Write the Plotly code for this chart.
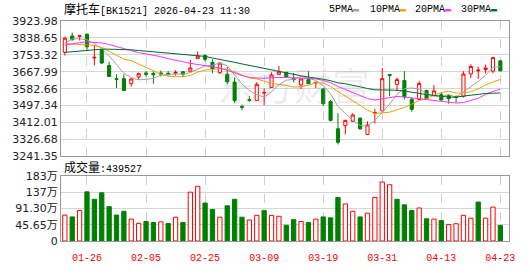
import plotly.graph_objects as go

# ---------------- data ----------------
dates = ["01-21", "01-22", "01-23", "01-26", "01-27", "01-28", "01-29", "01-30",
         "02-02", "02-03", "02-04", "02-05", "02-06", "02-09", "02-10", "02-11",
         "02-12", "02-13", "02-24", "02-25", "02-26", "02-27", "03-02", "03-03",
         "03-04", "03-05", "03-06", "03-09", "03-10", "03-11", "03-12", "03-13",
         "03-16", "03-17", "03-18", "03-19", "03-20", "03-23", "03-24", "03-25",
         "03-26", "03-27", "03-30", "03-31", "04-01", "04-02", "04-03", "04-07",
         "04-08", "04-09", "04-10", "04-13", "04-14", "04-15", "04-16", "04-17",
         "04-20", "04-21", "04-22", "04-23"]

opens = [3765.9, 3848.1, 3846.5, 3857.6, 3738.0, 3778.6, 3699.6, 3633.2, 3633.2, 3607.9,
         3641.1, 3662.0, 3660.0, 3662.0, 3660.0, 3660.0, 3668.0, 3671.1, 3734.3, 3750.2,
         3715.4, 3663.3, 3655.3, 3615.8, 3492.6, 3527.3, 3522.6, 3560.5, 3589.0, 3655.3,
         3664.8, 3634.0, 3601.6, 3628.5, 3611.1, 3581.0, 3517.9, 3380.4, 3396.2, 3418.3,
         3434.1, 3351.9, 3459.4, 3470.5, 3653.8, 3604.8, 3623.7, 3528.9, 3528.9, 3573.2,
         3547.9, 3552.6, 3547.9, 3543.2, 3544.7, 3656.9, 3672.7, 3679.0, 3671.1, 3723.3]
highs = [3844.9, 3865.5, 3851.3, 3860.8, 3802.3, 3781.8, 3718.5, 3655.3, 3655.3, 3636.4,
         3663.3, 3671.1, 3671.1, 3674.3, 3671.1, 3675.9, 3671.1, 3728.0, 3770.7, 3754.9,
         3731.2, 3715.4, 3691.7, 3639.5, 3502.1, 3544.7, 3615.8, 3584.2, 3664.8, 3696.4,
         3668.0, 3661.7, 3636.4, 3671.1, 3619.0, 3585.8, 3525.8, 3459.4, 3426.2, 3459.4,
         3438.8, 3418.3, 3481.5, 3687.0, 3655.3, 3639.5, 3671.1, 3538.4, 3620.6, 3577.9,
         3601.6, 3565.3, 3552.6, 3549.5, 3671.1, 3705.9, 3694.8, 3704.3, 3743.8, 3723.3]
lows = [3750.2, 3826.0, 3826.0, 3775.4, 3699.6, 3707.5, 3641.1, 3585.8, 3573.2, 3593.7,
        3628.5, 3644.3, 3607.9, 3644.3, 3644.3, 3649.0, 3641.1, 3664.8, 3734.3, 3720.1,
        3660.1, 3656.9, 3604.8, 3509.9, 3473.6, 3516.3, 3522.6, 3498.9, 3589.0, 3652.2,
        3636.4, 3614.3, 3581.0, 3607.9, 3585.8, 3494.2, 3418.3, 3301.4, 3351.9, 3415.1,
        3375.7, 3351.9, 3407.2, 3470.5, 3544.7, 3573.2, 3528.9, 3465.7, 3525.8, 3525.8,
        3544.7, 3522.6, 3506.8, 3513.1, 3538.4, 3636.4, 3631.6, 3660.1, 3660.1, 3672.7]
closes = [3837.1, 3829.2, 3849.7, 3794.4, 3740.6, 3712.2, 3644.3, 3630.0, 3573.2, 3631.6,
          3658.5, 3656.0, 3653.0, 3657.0, 3654.0, 3665.0, 3655.3, 3687.0, 3747.0, 3731.2,
          3683.8, 3712.2, 3617.4, 3522.6, 3489.4, 3524.2, 3604.8, 3563.7, 3652.2, 3668.0,
          3639.5, 3628.0, 3631.6, 3607.9, 3614.3, 3506.8, 3423.0, 3312.4, 3423.0, 3449.9,
          3380.4, 3399.3, 3462.6, 3633.2, 3649.0, 3628.5, 3541.6, 3478.4, 3609.5, 3528.9,
          3571.6, 3525.8, 3532.1, 3538.4, 3656.9, 3694.8, 3675.9, 3687.0, 3739.1, 3672.7]

# volume in 万
volumes = [73.0, 67.8, 86.1, 138.3, 117.4, 135.6, 96.5, 73.0, 83.5, 61.7,
           49.6, 54.8, 52.2, 53.9, 49.6, 67.0, 52.2, 137.4, 153.9, 106.9,
           88.7, 67.0, 99.1, 117.4, 67.0, 59.1, 72.2, 86.1, 72.2, 69.6,
           44.3, 60.0, 54.8, 52.2, 61.7, 67.8, 65.2, 122.6, 104.3, 83.5,
           67.8, 78.3, 122.6, 166.1, 158.3, 117.4, 101.7, 86.1, 93.0, 62.6,
           61.7, 57.4, 46.1, 48.7, 72.2, 64.3, 109.6, 64.3, 95.6, 43.95]

ma5 = [3813.4, 3833.9, 3833.9, 3829.2, 3810.2, 3785.2, 3748.2, 3704.3, 3660.1, 3638.3,
       3627.5, 3629.9, 3634.5, 3651.2, 3655.7, 3657.0, 3656.9, 3663.7, 3681.7, 3697.1,
       3700.9, 3712.2, 3698.3, 3653.4, 3605.1, 3573.2, 3551.7, 3540.9, 3566.9, 3602.6,
       3625.6, 3630.3, 3643.9, 3635.0, 3624.3, 3597.7, 3556.7, 3492.9, 3455.9, 3423.0,
       3397.7, 3393.0, 3423.0, 3465.1, 3504.9, 3554.5, 3583.0, 3586.1, 3581.4, 3557.4,
       3546.0, 3542.8, 3553.6, 3539.4, 3565.0, 3589.6, 3619.6, 3650.6, 3690.7, 3693.9]
ma10 = [3810.2, 3808.6, 3807.0, 3805.4, 3800.7, 3791.2, 3770.7, 3750.2, 3731.2, 3724.2,
        3706.4, 3689.1, 3669.4, 3655.6, 3647.0, 3642.3, 3643.4, 3649.1, 3666.4, 3676.4,
        3678.9, 3684.6, 3681.0, 3667.6, 3651.1, 3637.0, 3632.0, 3619.6, 3610.2, 3603.8,
        3599.4, 3591.0, 3592.4, 3600.9, 3613.4, 3611.7, 3593.5, 3568.4, 3545.5, 3523.6,
        3497.7, 3474.9, 3458.0, 3460.5, 3464.0, 3476.1, 3488.0, 3504.6, 3523.2, 3531.1,
        3550.3, 3562.9, 3569.9, 3560.4, 3561.2, 3567.8, 3581.2, 3602.1, 3615.1, 3629.4]
ma20 = [3802.3, 3810.2, 3814.9, 3818.1, 3816.5, 3813.4, 3805.4, 3794.4, 3783.3, 3772.3,
        3764.4, 3758.1, 3751.7, 3743.8, 3734.3, 3724.9, 3718.5, 3710.6, 3704.3, 3700.3,
        3692.7, 3686.8, 3675.2, 3661.6, 3649.0, 3639.6, 3637.7, 3634.3, 3638.3, 3640.1,
        3639.2, 3637.8, 3636.7, 3634.2, 3632.3, 3624.3, 3612.7, 3594.0, 3577.8, 3563.7,
        3548.6, 3532.9, 3525.2, 3530.7, 3538.7, 3543.9, 3540.7, 3536.5, 3534.3, 3527.4,
        3524.0, 3518.9, 3513.9, 3510.4, 3512.6, 3522.0, 3534.6, 3553.3, 3569.1, 3580.3]
ma30 = [3765.9, 3769.1, 3773.8, 3778.6, 3781.8, 3781.8, 3781.8, 3781.8, 3781.8, 3778.6,
        3775.4, 3772.3, 3769.1, 3765.9, 3762.8, 3761.2, 3757.0, 3754.0, 3750.0, 3745.4,
        3737.5, 3731.2, 3723.3, 3715.4, 3707.5, 3699.6, 3691.7, 3683.8, 3675.9, 3668.2,
        3661.6, 3654.9, 3647.6, 3641.4, 3637.2, 3630.3, 3622.9, 3612.4, 3607.3, 3601.3,
        3592.0, 3583.5, 3577.1, 3576.3, 3576.2, 3574.9, 3571.2, 3564.2, 3559.6, 3552.9,
        3549.1, 3542.9, 3540.1, 3540.6, 3546.2, 3551.9, 3554.2, 3558.4, 3561.2, 3561.4]

price_ticks = [3241.35, 3326.68, 3412.01, 3497.34, 3582.66, 3667.99, 3753.32, 3838.65, 3923.98]
vol_ticks = [0, 45.65, 91.30, 136.95, 182.60]
vol_tick_text = ["0", "45.65万", "91.30万", "137万", "183万"]
date_ticks = ["01-26", "02-05", "02-25", "03-09", "03-19", "03-31", "04-13", "04-23"]

title_name = "摩托车"
title_rest = "[BK1521] 2026-04-23 11:30"
vol_name = "成交量"
vol_now = ":439527"
ma_names = ["5PMA", "10PMA", "20PMA", "30PMA"]
ma_colors = ["#a0a0a0", "#f0a000", "#ff33ff", "#006633"]

RED = "#ff0000"
GREEN = "#008000"

# ---------------- figure ----------------
fig = go.Figure()

fig.add_trace(go.Candlestick(
    x=dates, open=opens, high=highs, low=lows, close=closes,
    increasing=dict(line=dict(color=RED, width=1), fillcolor="#ffffff"),
    decreasing=dict(line=dict(color=GREEN, width=1), fillcolor=GREEN),
    whiskerwidth=0, xaxis="x", yaxis="y", showlegend=False, hoverinfo="skip"))

for vals, name, col in zip([ma5, ma10, ma20, ma30], ma_names, ma_colors):
    fig.add_trace(go.Scatter(x=dates, y=vals, mode="lines", name=name,
                             line=dict(color=col, width=1), xaxis="x", yaxis="y",
                             showlegend=False, hoverinfo="skip"))

# volume colour: up vs previous close (first bar: vs its open)
vol_up = [closes[0] > opens[0]] + [closes[i] > closes[i - 1] for i in range(1, len(closes))]
fig.add_trace(go.Bar(
    x=dates, y=volumes, width=0.58,
    marker=dict(color=["#ffffff" if u else GREEN for u in vol_up],
                line=dict(color=[RED if u else GREEN for u in vol_up], width=1)),
    xaxis="x2", yaxis="y2", showlegend=False, hoverinfo="skip"))

W, H = 530, 276
ML, MR, MT, MB = 56, 21, 21, 21
ph = H - MT - MB
pw = W - ML - MR


def py(pix):
    return (H - MB - pix) / ph


def px(pix):
    return (pix - ML) / pw


xrange_ = [-0.52, 60.17]
common_x = dict(type="category", range=xrange_, tickvals=date_ticks,
                showgrid=True, gridcolor="#cfcfcf", griddash="dash", gridwidth=1,
                showline=True, mirror=True, linecolor="#9a9a9a", linewidth=1,
                zeroline=False, ticks="", fixedrange=True)

fig.update_layout(
    width=W, height=H,
    margin=dict(l=ML, r=MR, t=MT, b=MB),
    paper_bgcolor="#ffffff", plot_bgcolor="#ffffff",
    boxgap=0.4, bargap=0.4,
    showlegend=False,
    xaxis=dict(common_x, anchor="y", domain=[0, 1], showticklabels=False,
               rangeslider=dict(visible=False)),
    xaxis2=dict(common_x, anchor="y2", domain=[0, 1], showticklabels=True,
                tickfont=dict(family="Liberation Mono, DejaVu Sans Mono", size=10, color=RED),
                ticklabelstandoff=7),
    yaxis=dict(domain=[py(165), 1], range=[price_ticks[0], price_ticks[-1]],
               tickvals=price_ticks, ticktext=[f"{v:.2f}" for v in price_ticks],
               showgrid=True, gridcolor="#d6d6d6", gridwidth=1,
               showline=True, mirror=True, linecolor="#9a9a9a", linewidth=1,
               zeroline=False, ticks="", fixedrange=True,
               tickfont=dict(family="DejaVu Sans", size=11, color="#222222")),
    yaxis2=dict(domain=[0, py(186)], range=[0, vol_ticks[-1]],
                tickvals=vol_ticks, ticktext=vol_tick_text,
                showgrid=True, gridcolor="#d6d6d6", gridwidth=1,
                showline=True, mirror=True, linecolor="#9a9a9a", linewidth=1,
                zeroline=False, ticks="", fixedrange=True,
                tickfont=dict(family="DejaVu Sans, Noto Sans CJK SC", size=11, color="#222222")),
)

annotations = []
# title
annotations.append(dict(
    text=f"<span style='font-size:12px'>{title_name}</span>{title_rest}",
    xref="paper", yref="paper", x=px(57), y=py(9), xanchor="left", yanchor="middle",
    showarrow=False, font=dict(family="Liberation Mono, Noto Sans CJK SC", size=10, color="#000000")))
# legend of moving averages
leg_x = [325, 366, 412, 458]
for name, col, lx in zip(ma_names, ma_colors, leg_x):
    annotations.append(dict(
        text=f"{name}<span style='color:{col}'>▬</span>",
        xref="paper", yref="paper", x=px(lx), y=py(9), xanchor="left", yanchor="middle",
        showarrow=False, font=dict(family="Liberation Mono, DejaVu Sans Mono", size=10, color="#000000")))
# volume title
annotations.append(dict(
    text=f"<span style='font-size:12px'>{vol_name}</span>{vol_now}",
    xref="paper", yref="paper", x=px(57), y=py(177), xanchor="left", yanchor="middle",
    showarrow=False, font=dict(family="Liberation Mono, Noto Sans CJK SC", size=10, color="#000000")))
# watermark
annotations.append(dict(
    text="东方财富", xref="paper", yref="paper", x=px(292), y=py(88),
    xanchor="center", yanchor="middle", showarrow=False,
    font=dict(family="Noto Sans CJK SC", size=38, color="rgba(140,140,150,0.16)")))
fig.update_layout(annotations=annotations)

fig.write_html("out.html")
